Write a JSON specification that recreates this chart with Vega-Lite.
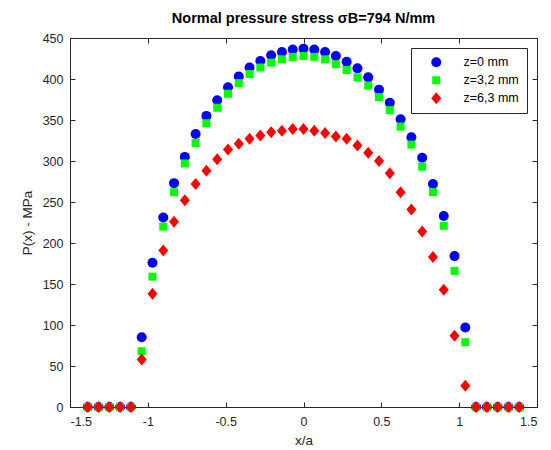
{
  "$schema": "https://vega.github.io/schema/vega-lite/v6.json",
  "width": 467,
  "height": 369,
  "autosize": {"type": "none"},
  "padding": {"left": 70, "top": 38, "right": 14, "bottom": 43},
  "background": "white",
  "title": {
    "text": "Normal pressure stress σB=794 N/mm",
    "font": "Liberation Sans",
    "fontSize": 14.5,
    "fontWeight": "bold",
    "color": "#000000",
    "offset": 6,
    "anchor": "middle"
  },
  "config": {
    "view": {"stroke": "#262626", "strokeWidth": 1},
    "axis": {
      "grid": false,
      "domainColor": "#262626",
      "tickColor": "#262626",
      "tickSize": -5,
      "labelColor": "#262626",
      "labelFont": "Liberation Sans",
      "labelFontSize": 12.5,
      "titleFont": "Liberation Sans",
      "titleFontSize": 13.5,
      "titleFontWeight": "normal",
      "titleColor": "#262626"
    },
    "legend": {
      "labelFont": "Liberation Sans",
      "labelFontSize": 12.5,
      "labelColor": "#000000"
    }
  },
  "data": {
    "values": [
      {"x": -1.386, "p": 0, "z": "z=0 mm"},
      {"x": -1.3167, "p": 0, "z": "z=0 mm"},
      {"x": -1.2474, "p": 0, "z": "z=0 mm"},
      {"x": -1.1781, "p": 0, "z": "z=0 mm"},
      {"x": -1.1088, "p": 0, "z": "z=0 mm"},
      {"x": -1.0395, "p": 85, "z": "z=0 mm"},
      {"x": -0.9702, "p": 176, "z": "z=0 mm"},
      {"x": -0.9009, "p": 231, "z": "z=0 mm"},
      {"x": -0.8316, "p": 273, "z": "z=0 mm"},
      {"x": -0.7623, "p": 305, "z": "z=0 mm"},
      {"x": -0.693, "p": 333, "z": "z=0 mm"},
      {"x": -0.6237, "p": 355, "z": "z=0 mm"},
      {"x": -0.5544, "p": 374, "z": "z=0 mm"},
      {"x": -0.4851, "p": 390, "z": "z=0 mm"},
      {"x": -0.4158, "p": 403, "z": "z=0 mm"},
      {"x": -0.3465, "p": 414, "z": "z=0 mm"},
      {"x": -0.2772, "p": 422, "z": "z=0 mm"},
      {"x": -0.2079, "p": 429, "z": "z=0 mm"},
      {"x": -0.1386, "p": 433, "z": "z=0 mm"},
      {"x": -0.0693, "p": 436, "z": "z=0 mm"},
      {"x": 0, "p": 437, "z": "z=0 mm"},
      {"x": 0.0693, "p": 436, "z": "z=0 mm"},
      {"x": 0.1386, "p": 433, "z": "z=0 mm"},
      {"x": 0.2079, "p": 428, "z": "z=0 mm"},
      {"x": 0.2772, "p": 421, "z": "z=0 mm"},
      {"x": 0.3465, "p": 413, "z": "z=0 mm"},
      {"x": 0.4158, "p": 402, "z": "z=0 mm"},
      {"x": 0.4851, "p": 387, "z": "z=0 mm"},
      {"x": 0.5544, "p": 371, "z": "z=0 mm"},
      {"x": 0.6237, "p": 351, "z": "z=0 mm"},
      {"x": 0.693, "p": 329, "z": "z=0 mm"},
      {"x": 0.7623, "p": 304, "z": "z=0 mm"},
      {"x": 0.8316, "p": 272, "z": "z=0 mm"},
      {"x": 0.9009, "p": 233, "z": "z=0 mm"},
      {"x": 0.9702, "p": 184, "z": "z=0 mm"},
      {"x": 1.0395, "p": 97, "z": "z=0 mm"},
      {"x": 1.1088, "p": 0, "z": "z=0 mm"},
      {"x": 1.1781, "p": 0, "z": "z=0 mm"},
      {"x": 1.2474, "p": 0, "z": "z=0 mm"},
      {"x": 1.3167, "p": 0, "z": "z=0 mm"},
      {"x": 1.386, "p": 0, "z": "z=0 mm"},

      {"x": -1.386, "p": 0, "z": "z=3,2 mm"},
      {"x": -1.3167, "p": 0, "z": "z=3,2 mm"},
      {"x": -1.2474, "p": 0, "z": "z=3,2 mm"},
      {"x": -1.1781, "p": 0, "z": "z=3,2 mm"},
      {"x": -1.1088, "p": 0, "z": "z=3,2 mm"},
      {"x": -1.0395, "p": 68, "z": "z=3,2 mm"},
      {"x": -0.9702, "p": 159, "z": "z=3,2 mm"},
      {"x": -0.9009, "p": 220, "z": "z=3,2 mm"},
      {"x": -0.8316, "p": 262, "z": "z=3,2 mm"},
      {"x": -0.7623, "p": 297, "z": "z=3,2 mm"},
      {"x": -0.693, "p": 322, "z": "z=3,2 mm"},
      {"x": -0.6237, "p": 346, "z": "z=3,2 mm"},
      {"x": -0.5544, "p": 365, "z": "z=3,2 mm"},
      {"x": -0.4851, "p": 382, "z": "z=3,2 mm"},
      {"x": -0.4158, "p": 395, "z": "z=3,2 mm"},
      {"x": -0.3465, "p": 406, "z": "z=3,2 mm"},
      {"x": -0.2772, "p": 414, "z": "z=3,2 mm"},
      {"x": -0.2079, "p": 420, "z": "z=3,2 mm"},
      {"x": -0.1386, "p": 424, "z": "z=3,2 mm"},
      {"x": -0.0693, "p": 427, "z": "z=3,2 mm"},
      {"x": 0, "p": 428, "z": "z=3,2 mm"},
      {"x": 0.0693, "p": 427, "z": "z=3,2 mm"},
      {"x": 0.1386, "p": 424, "z": "z=3,2 mm"},
      {"x": 0.2079, "p": 418, "z": "z=3,2 mm"},
      {"x": 0.2772, "p": 411, "z": "z=3,2 mm"},
      {"x": 0.3465, "p": 402, "z": "z=3,2 mm"},
      {"x": 0.4158, "p": 392, "z": "z=3,2 mm"},
      {"x": 0.4851, "p": 378, "z": "z=3,2 mm"},
      {"x": 0.5544, "p": 362, "z": "z=3,2 mm"},
      {"x": 0.6237, "p": 342, "z": "z=3,2 mm"},
      {"x": 0.693, "p": 320, "z": "z=3,2 mm"},
      {"x": 0.7623, "p": 293, "z": "z=3,2 mm"},
      {"x": 0.8316, "p": 262, "z": "z=3,2 mm"},
      {"x": 0.9009, "p": 221, "z": "z=3,2 mm"},
      {"x": 0.9702, "p": 166, "z": "z=3,2 mm"},
      {"x": 1.0395, "p": 79, "z": "z=3,2 mm"},
      {"x": 1.1088, "p": 0, "z": "z=3,2 mm"},
      {"x": 1.1781, "p": 0, "z": "z=3,2 mm"},
      {"x": 1.2474, "p": 0, "z": "z=3,2 mm"},
      {"x": 1.3167, "p": 0, "z": "z=3,2 mm"},
      {"x": 1.386, "p": 0, "z": "z=3,2 mm"},

      {"x": -1.386, "p": 0, "z": "z=6,3 mm"},
      {"x": -1.3167, "p": 0, "z": "z=6,3 mm"},
      {"x": -1.2474, "p": 0, "z": "z=6,3 mm"},
      {"x": -1.1781, "p": 0, "z": "z=6,3 mm"},
      {"x": -1.1088, "p": 0, "z": "z=6,3 mm"},
      {"x": -1.0395, "p": 58, "z": "z=6,3 mm"},
      {"x": -0.9702, "p": 138, "z": "z=6,3 mm"},
      {"x": -0.9009, "p": 191, "z": "z=6,3 mm"},
      {"x": -0.8316, "p": 226, "z": "z=6,3 mm"},
      {"x": -0.7623, "p": 252, "z": "z=6,3 mm"},
      {"x": -0.693, "p": 272, "z": "z=6,3 mm"},
      {"x": -0.6237, "p": 288, "z": "z=6,3 mm"},
      {"x": -0.5544, "p": 302, "z": "z=6,3 mm"},
      {"x": -0.4851, "p": 314, "z": "z=6,3 mm"},
      {"x": -0.4158, "p": 321, "z": "z=6,3 mm"},
      {"x": -0.3465, "p": 327, "z": "z=6,3 mm"},
      {"x": -0.2772, "p": 331, "z": "z=6,3 mm"},
      {"x": -0.2079, "p": 335, "z": "z=6,3 mm"},
      {"x": -0.1386, "p": 337, "z": "z=6,3 mm"},
      {"x": -0.0693, "p": 339, "z": "z=6,3 mm"},
      {"x": 0, "p": 339, "z": "z=6,3 mm"},
      {"x": 0.0693, "p": 337, "z": "z=6,3 mm"},
      {"x": 0.1386, "p": 334, "z": "z=6,3 mm"},
      {"x": 0.2079, "p": 330, "z": "z=6,3 mm"},
      {"x": 0.2772, "p": 327, "z": "z=6,3 mm"},
      {"x": 0.3465, "p": 319, "z": "z=6,3 mm"},
      {"x": 0.4158, "p": 310, "z": "z=6,3 mm"},
      {"x": 0.4851, "p": 300, "z": "z=6,3 mm"},
      {"x": 0.5544, "p": 285, "z": "z=6,3 mm"},
      {"x": 0.6237, "p": 262, "z": "z=6,3 mm"},
      {"x": 0.693, "p": 241, "z": "z=6,3 mm"},
      {"x": 0.7623, "p": 214, "z": "z=6,3 mm"},
      {"x": 0.8316, "p": 183, "z": "z=6,3 mm"},
      {"x": 0.9009, "p": 143, "z": "z=6,3 mm"},
      {"x": 0.9702, "p": 87, "z": "z=6,3 mm"},
      {"x": 1.0395, "p": 26, "z": "z=6,3 mm"},
      {"x": 1.1088, "p": 0, "z": "z=6,3 mm"},
      {"x": 1.1781, "p": 0, "z": "z=6,3 mm"},
      {"x": 1.2474, "p": 0, "z": "z=6,3 mm"},
      {"x": 1.3167, "p": 0, "z": "z=6,3 mm"},
      {"x": 1.386, "p": 0, "z": "z=6,3 mm"}
    ]
  },
  "layer": [
    {
      "mark": {"type": "point", "filled": true, "opacity": 1, "size": 100},
      "encoding": {
        "x": {
          "field": "x",
          "type": "quantitative",
          "scale": {"domain": [-1.5, 1.5], "nice": false, "zero": false},
          "axis": {
            "title": "x/a",
            "values": [-1.5, -1, -0.5, 0, 0.5, 1, 1.5],
            "labelExpr": "datum.value < 0 ? '-' + format(-datum.value, '~g') : format(datum.value, '~g')",
            "labelPadding": 13,
            "titlePadding": 6
          }
        },
        "y": {
          "field": "p",
          "type": "quantitative",
          "scale": {"domain": [0, 450], "nice": false},
          "axis": {
            "title": "P(x) - MPa",
            "values": [0, 50, 100, 150, 200, 250, 300, 350, 400, 450],
            "labelPadding": 12,
            "titlePadding": 8
          }
        },
        "color": {
          "field": "z",
          "type": "nominal",
          "scale": {"domain": ["z=0 mm", "z=3,2 mm", "z=6,3 mm"], "range": ["#0000FF", "#00FF00", "#FF0000"]},
          "legend": {
            "title": null,
            "orient": "top-right",
            "offset": 10,
            "strokeColor": "#262626",
            "fillColor": "white",
            "padding": 8,
            "symbolSize": 100,
            "symbolOffset": 11,
            "labelOffset": 21,
            "rowPadding": 5
          }
        },
        "shape": {
          "field": "z",
          "type": "nominal",
          "scale": {"domain": ["z=0 mm", "z=3,2 mm", "z=6,3 mm"], "range": ["circle", "M-0.8,-0.8H0.8V0.8H-0.8Z", "M-1,0L0,-1.2L1,0L0,1.2Z"]},
          "legend": {
            "title": null,
            "orient": "top-right",
            "offset": 10,
            "strokeColor": "#262626",
            "fillColor": "white",
            "padding": 8,
            "symbolSize": 100,
            "symbolOffset": 11,
            "labelOffset": 21,
            "rowPadding": 5
          }
        }
      }
    },
    {
      "mark": {"type": "point", "opacity": 0},
      "encoding": {
        "x": {
          "field": "x",
          "type": "quantitative",
          "axis": {"orient": "top", "title": null, "labels": false, "values": [-1.5, -1, -0.5, 0, 0.5, 1, 1.5]}
        },
        "y": {
          "field": "p",
          "type": "quantitative",
          "axis": {"orient": "right", "title": null, "labels": false, "values": [0, 50, 100, 150, 200, 250, 300, 350, 400, 450]}
        }
      }
    }
  ],
  "resolve": {"axis": {"x": "independent", "y": "independent"}}
}
